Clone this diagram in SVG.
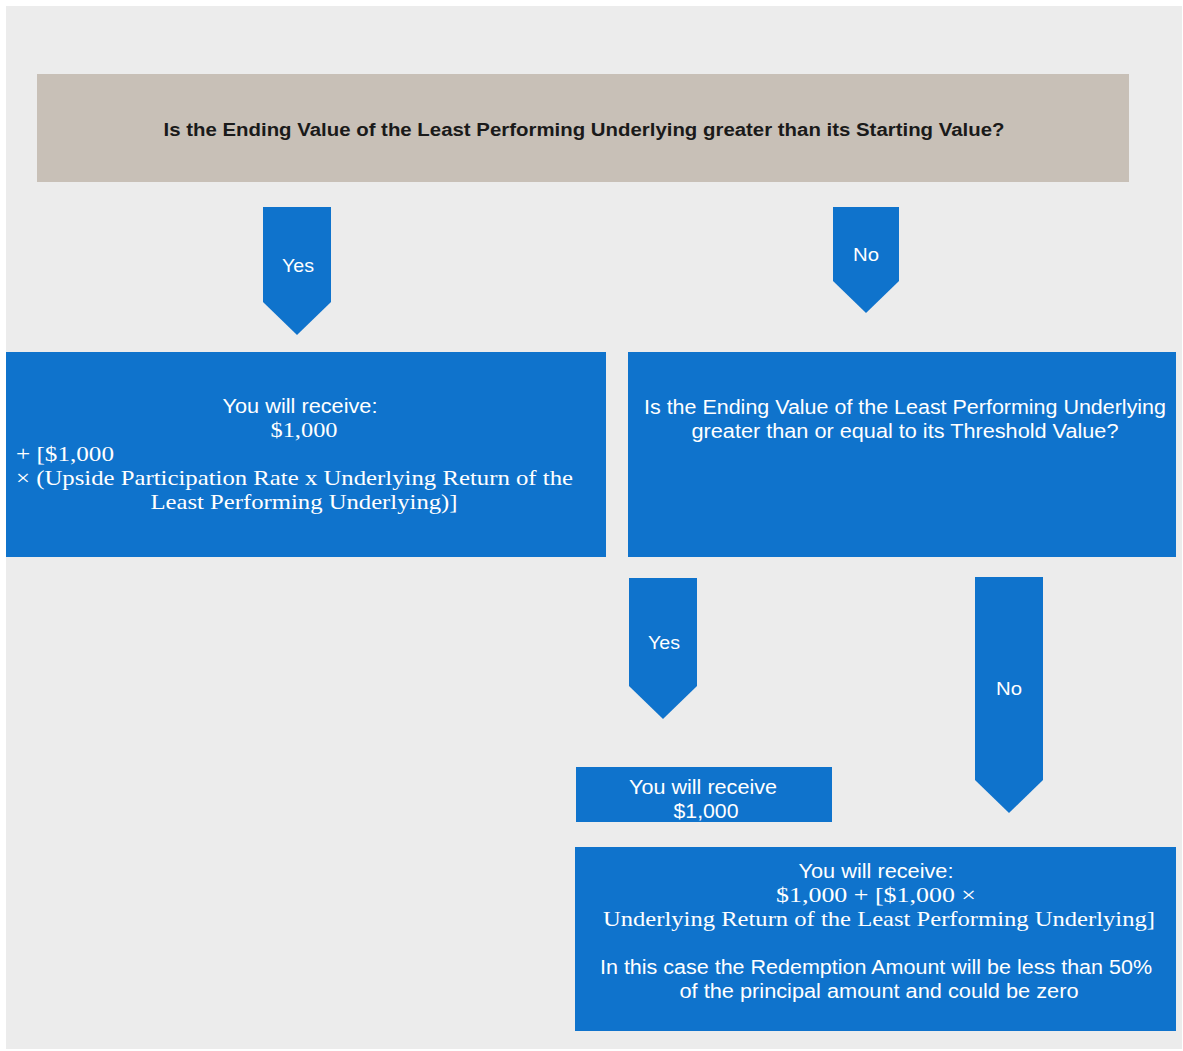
<svg xmlns="http://www.w3.org/2000/svg" width="1183" height="1051" viewBox="0 0 1183 1051">
<style>
.box{fill:#0f73cc}
.arr{fill:#0f73cc}
.hdr{fill:#c8c0b7}
.s{font-family:"Liberation Sans","Noto Sans",Arial,sans-serif;font-size:20px;fill:#ffffff;text-anchor:middle}
.r{font-family:"Liberation Serif","Times New Roman",serif;font-size:22px;fill:#ffffff}
.lbl{font-family:"Liberation Sans",Arial,sans-serif;font-size:19px;fill:#ffffff;text-anchor:middle}
.h{font-family:"Liberation Sans",Arial,sans-serif;font-size:18px;font-weight:bold;fill:#1a1a1a;text-anchor:middle}
</style>
<rect x="0" y="0" width="1183" height="1051" fill="#ffffff"/>
<rect x="6" y="6" width="1176" height="1043" fill="#ececec"/>
<g id="connectors">
  <g id="arrow-yes1"><polygon class="arr" points="263,207 331,207 331,302 297,335 263,302"/><text class="lbl" x="298" y="272" textLength="32" lengthAdjust="spacingAndGlyphs">Yes</text></g>
  <g id="arrow-no1"><polygon class="arr" points="833,207 899,207 899,281 866,313 833,281"/><text class="lbl" x="866" y="261" textLength="26" lengthAdjust="spacingAndGlyphs">No</text></g>
  <g id="arrow-yes2"><polygon class="arr" points="629,578 697,578 697,686 663,719 629,686"/><text class="lbl" x="664" y="649" textLength="32" lengthAdjust="spacingAndGlyphs">Yes</text></g>
  <g id="arrow-no2"><polygon class="arr" points="975,577 1043,577 1043,780 1009,813 975,780"/><text class="lbl" x="1009" y="695" textLength="26" lengthAdjust="spacingAndGlyphs">No</text></g>
</g>
<g id="q1">
  <rect class="hdr" x="37" y="74" width="1092" height="108"/>
  <text class="h" x="584" y="136" textLength="841" lengthAdjust="spacingAndGlyphs">Is the Ending Value of the Least Performing Underlying greater than its Starting Value?</text>
</g>
<g id="yes-result">
  <rect class="box" x="6" y="352" width="600" height="205"/>
  <text class="s" x="300" y="413" textLength="155" lengthAdjust="spacingAndGlyphs">You will receive:</text>
  <text class="r" x="304" y="437" text-anchor="middle" textLength="67" lengthAdjust="spacingAndGlyphs">$1,000</text>
  <text class="r" x="16" y="461" textLength="98" lengthAdjust="spacingAndGlyphs">+ [$1,000</text>
  <text class="r" x="16" y="485" textLength="557" lengthAdjust="spacingAndGlyphs">× (Upside Participation Rate x Underlying Return of the</text>
  <text class="r" x="304" y="509" text-anchor="middle" textLength="307" lengthAdjust="spacingAndGlyphs">Least Performing Underlying)]</text>
</g>
<g id="q2">
  <rect class="box" x="628" y="352" width="548" height="205"/>
  <text class="s" x="905" y="414" textLength="522" lengthAdjust="spacingAndGlyphs">Is the Ending Value of the Least Performing Underlying</text>
  <text class="s" x="905" y="438" textLength="427" lengthAdjust="spacingAndGlyphs">greater than or equal to its Threshold Value?</text>
</g>
<g id="yes2-result">
  <rect class="box" x="576" y="767" width="256" height="55"/>
  <text class="s" x="703" y="794" textLength="148" lengthAdjust="spacingAndGlyphs">You will receive</text>
  <text class="s" x="706" y="818" textLength="65" lengthAdjust="spacingAndGlyphs">$1,000</text>
</g>
<g id="no2-result">
  <rect class="box" x="575" y="847" width="601" height="184"/>
  <text class="s" x="876" y="878" textLength="155" lengthAdjust="spacingAndGlyphs">You will receive:</text>
  <text class="r" x="876" y="902" text-anchor="middle" textLength="200" lengthAdjust="spacingAndGlyphs">$1,000 + [$1,000  ×</text>
  <text class="r" x="879" y="926" text-anchor="middle" textLength="552" lengthAdjust="spacingAndGlyphs">Underlying Return of the Least Performing Underlying]</text>
  <text class="s" x="876" y="974" textLength="552" lengthAdjust="spacingAndGlyphs">In this case the Redemption Amount will be less than 50%</text>
  <text class="s" x="879" y="998" textLength="399" lengthAdjust="spacingAndGlyphs">of the principal amount and could be zero</text>
</g>
</svg>
